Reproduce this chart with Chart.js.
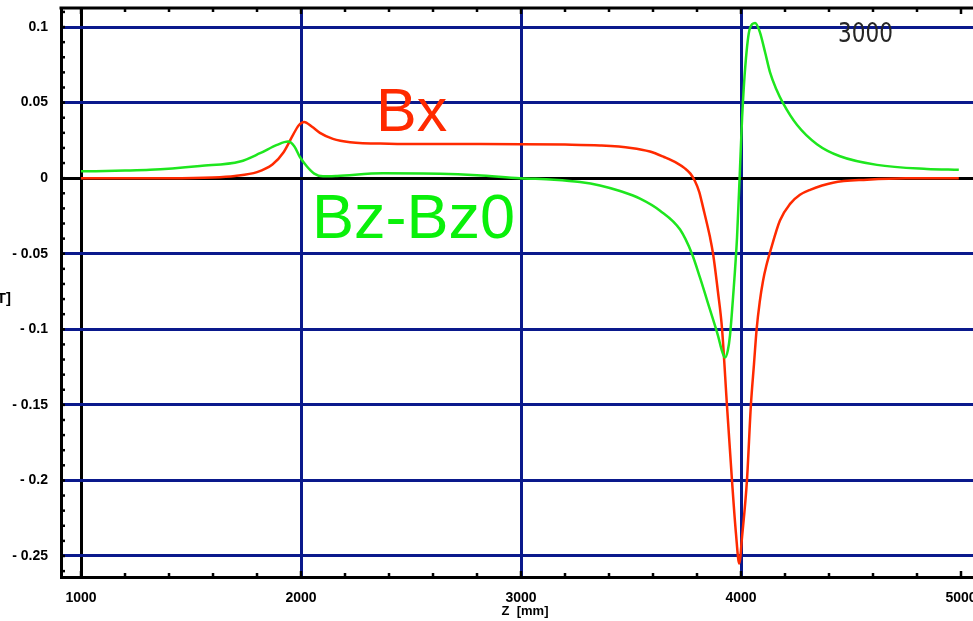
<!DOCTYPE html>
<html>
<head>
<meta charset="utf-8">
<script src="https://cdn.jsdelivr.net/npm/chart.js@4.4.0/dist/chart.umd.min.js"></script>
<style>
  html, body { margin: 0; padding: 0; background: #fff; overflow: hidden; }
  #wrap { width: 973px; height: 621px; overflow: hidden; }
</style>
</head>
<body>
<div id="wrap"><canvas id="field" width="1027" height="621"></canvas></div>
<script>
/* ── Field profile along Z ───────────────────────────────────── */

const BX_Z = [1000, 1200, 1400, 1600, 1700, 1800, 1870, 1920, 1965, 1990, 2014, 2050, 2086, 2145, 2223,
  2400, 2600, 2800, 3000, 3200, 3359, 3500, 3586, 3650, 3709, 3745, 3770, 3791, 3810, 3827, 3859, 3873, 3895, 3914,
  3936, 3959, 3977, 3992, 4005, 4027, 4045, 4059, 4071, 4085, 4100, 4115, 4132, 4177, 4223, 4268, 4314, 4418, 4573, 4750, 4990];
const BX_VAL = [0, 0, 0, 0.0005, 0.0015, 0.004, 0.009, 0.017, 0.029, 0.035, 0.0372, 0.034, 0.030, 0.026, 0.0238,
  0.0228, 0.0226, 0.0226, 0.0225, 0.0222, 0.0216, 0.020, 0.0176, 0.014, 0.010, 0.0065, 0.003, -0.002, -0.009, -0.019, -0.039, -0.05, -0.075, -0.1,
  -0.15, -0.2, -0.235, -0.255, -0.237, -0.2, -0.15, -0.123, -0.1, -0.082, -0.068, -0.058, -0.049, -0.028, -0.017, -0.011, -0.0077, -0.003, -0.001, 0, 0];

const BZ_Z = [1000, 1200, 1314, 1541, 1723, 1814, 1891, 1941, 1970, 1995, 2027, 2060, 2100, 2164, 2373,
  2632, 2800, 2995, 3150, 3268, 3359, 3450, 3541, 3632, 3723, 3777, 3814, 3859, 3895, 3915, 3927, 3940,
  3950, 3964, 3982, 3995, 4005, 4020, 4040, 4064, 4085, 4110, 4132, 4160, 4191, 4255, 4345, 4450, 4618, 4845, 4990];
const BZ_VAL = [0.0045, 0.005, 0.0055, 0.0081, 0.011, 0.0165, 0.022, 0.0242, 0.021, 0.014, 0.0077, 0.003, 0.0012, 0.0015, 0.0033,
  0.003, 0.002, 0, -0.001, -0.0025, -0.0048, -0.0085, -0.0135, -0.0215, -0.034, -0.05, -0.066, -0.087, -0.104, -0.115, -0.1187, -0.114,
  -0.104, -0.0785, -0.039, 0.005, 0.04, 0.075, 0.099, 0.1027, 0.097, 0.083, 0.07, 0.059, 0.0497, 0.0352, 0.0225, 0.0145, 0.0088, 0.0061, 0.0055];

const X_MIN = 909, X_MAX = 5300, X_STEP = 200;
const Y_MIN = -0.2639, Y_MAX = 0.1126, Y_STEP = 0.01;
const X_GRID = [2000, 3000, 4000];
const X_LABELS = [1000, 2000, 3000, 4000, 5000];

const RED = '#ff2a00';
const GREEN = '#1ee61e';
const NAVY = '#0a198c';

/* ── Text drawn over the plot ────────────────────────────────── */
const NOTES = [
  { text: 'Bx',     x: 376, y: 131, font: '61px "Liberation Sans", Arial, sans-serif', color: RED,  align: 'left' },
  { text: 'Bz-Bz0', x: 312, y: 238, font: '63px "Liberation Sans", Arial, sans-serif', color: '#0af00a', align: 'left' },
  { text: 'Z  [mm]', x: 525, y: 615, font: 'bold 13px "Liberation Sans", Arial, sans-serif', color: '#000', align: 'center' },
  { text: '[T]',    x: 11,  y: 303, font: 'bold 15px "Liberation Sans", Arial, sans-serif', color: '#000', align: 'right' },
];

const pts = (zs, vs) => zs.map((z, i) => ({ x: z, y: vs[i] }));
const isMultiple = (v, m) => Math.abs(Math.round(v / m) * m - v) < 1e-6;

const fmtY = v => {
  if (Math.abs(v) < 1e-9) return '0';
  const s = String(Number(Math.abs(v).toFixed(2)));
  return v < 0 ? '- ' + s : s;
};

/* inward tick marks + top frame + text overlays */
const frame = {
  id: 'frame',
  afterDraw(chart) {
    const { ctx, chartArea: a, scales: { x, y } } = chart;
    ctx.save();
    ctx.strokeStyle = '#000';
    ctx.lineWidth = 3;
    ctx.beginPath();
    ctx.moveTo(a.left - 1.5, a.top);
    ctx.lineTo(a.right, a.top);
    ctx.stroke();

    ctx.lineWidth = 2.5;
    x.ticks.forEach(t => {
      const px = x.getPixelForValue(t.value);
      const len = isMultiple(t.value, 1000) ? 6 : 4;
      ctx.beginPath();
      ctx.moveTo(px, a.bottom); ctx.lineTo(px, a.bottom - len);
      ctx.moveTo(px, a.top);    ctx.lineTo(px, a.top + len);
      ctx.stroke();
    });
    y.ticks.forEach(t => {
      const py = y.getPixelForValue(t.value);
      ctx.beginPath();
      ctx.moveTo(a.left, py); ctx.lineTo(a.left + 4, py);
      ctx.stroke();
    });

    NOTES.forEach(n => {
      ctx.font = n.font;
      ctx.fillStyle = n.color;
      ctx.textAlign = n.align;
      ctx.textBaseline = 'alphabetic';
      ctx.fillText(n.text, n.x, n.y);
    });

    /* run label in the corner */
    ctx.save();
    ctx.translate(838, 42);
    ctx.scale(0.9, 1.1);
    ctx.font = '24px "DejaVu Sans", sans-serif';
    ctx.fillStyle = '#262626';
    ctx.textAlign = 'left';
    ctx.filter = 'blur(0.3px)';
    ctx.fillText('3000', 0, 0);
    ctx.restore();

    ctx.restore();
  },
};

const tickFont = { family: '"Liberation Sans", Arial, sans-serif', size: 14, weight: 'bold' };

new Chart(document.getElementById('field'), {
  type: 'line',
  data: {
    datasets: [
      {
        label: 'Bz-Bz0',
        data: pts(BZ_Z, BZ_VAL),
        borderColor: GREEN,
        borderWidth: 2.5,
        pointRadius: 0,
        cubicInterpolationMode: 'monotone',
      },
      {
        label: 'Bx',
        data: pts(BX_Z, BX_VAL),
        borderColor: RED,
        borderWidth: 2.5,
        pointRadius: 0,
        cubicInterpolationMode: 'monotone',
      },
    ],
  },
  options: {
    responsive: false,
    devicePixelRatio: 1,
    animation: false,
    layout: { padding: { top: 8, left: 0, right: 0, bottom: 0 } },
    plugins: { legend: { display: false }, tooltip: { enabled: false } },
    scales: {
      x: {
        type: 'linear',
        min: X_MIN,
        max: X_MAX,
        afterFit: s => { s.height = 44; s.paddingLeft = 0; s.paddingRight = 0; },
        afterBuildTicks: s => {
          const ticks = [];
          for (let v = 1000; v <= X_MAX; v += X_STEP) ticks.push({ value: v });
          s.ticks = ticks;
        },
        ticks: {
          autoSkip: false,
          maxRotation: 0,
          padding: 13,
          color: '#000',
          font: tickFont,
          callback: v => X_LABELS.includes(v) ? String(v) : '',
        },
        grid: {
          drawTicks: false,
          lineWidth: 3,
          color: c => {
            const v = c.tick && c.tick.value;
            if (v === 1000) return '#000';
            return X_GRID.includes(v) ? NAVY : 'rgba(0,0,0,0)';
          },
        },
        border: { display: true, color: '#000', width: 3 },
      },
      y: {
        type: 'linear',
        min: Y_MIN,
        max: Y_MAX,
        afterFit: s => { s.width = 61; s.paddingTop = 0; s.paddingBottom = 0; },
        afterBuildTicks: s => {
          const ticks = [];
          for (let i = -26; i <= 11; i++) ticks.push({ value: i * Y_STEP });
          s.ticks = ticks;
        },
        ticks: {
          autoSkip: false,
          padding: 13,
          color: '#000',
          font: tickFont,
          callback: v => isMultiple(v, 0.05) ? fmtY(v) : '',
        },
        grid: {
          drawTicks: false,
          lineWidth: 3,
          color: c => {
            const v = c.tick && c.tick.value;
            if (v === undefined) return 'rgba(0,0,0,0)';
            if (Math.abs(v) < 1e-9) return '#000';
            return isMultiple(v, 0.05) ? NAVY : 'rgba(0,0,0,0)';
          },
        },
        border: { display: true, color: '#000', width: 3 },
      },
    },
  },
  plugins: [frame],
});
</script>
</body>
</html>
